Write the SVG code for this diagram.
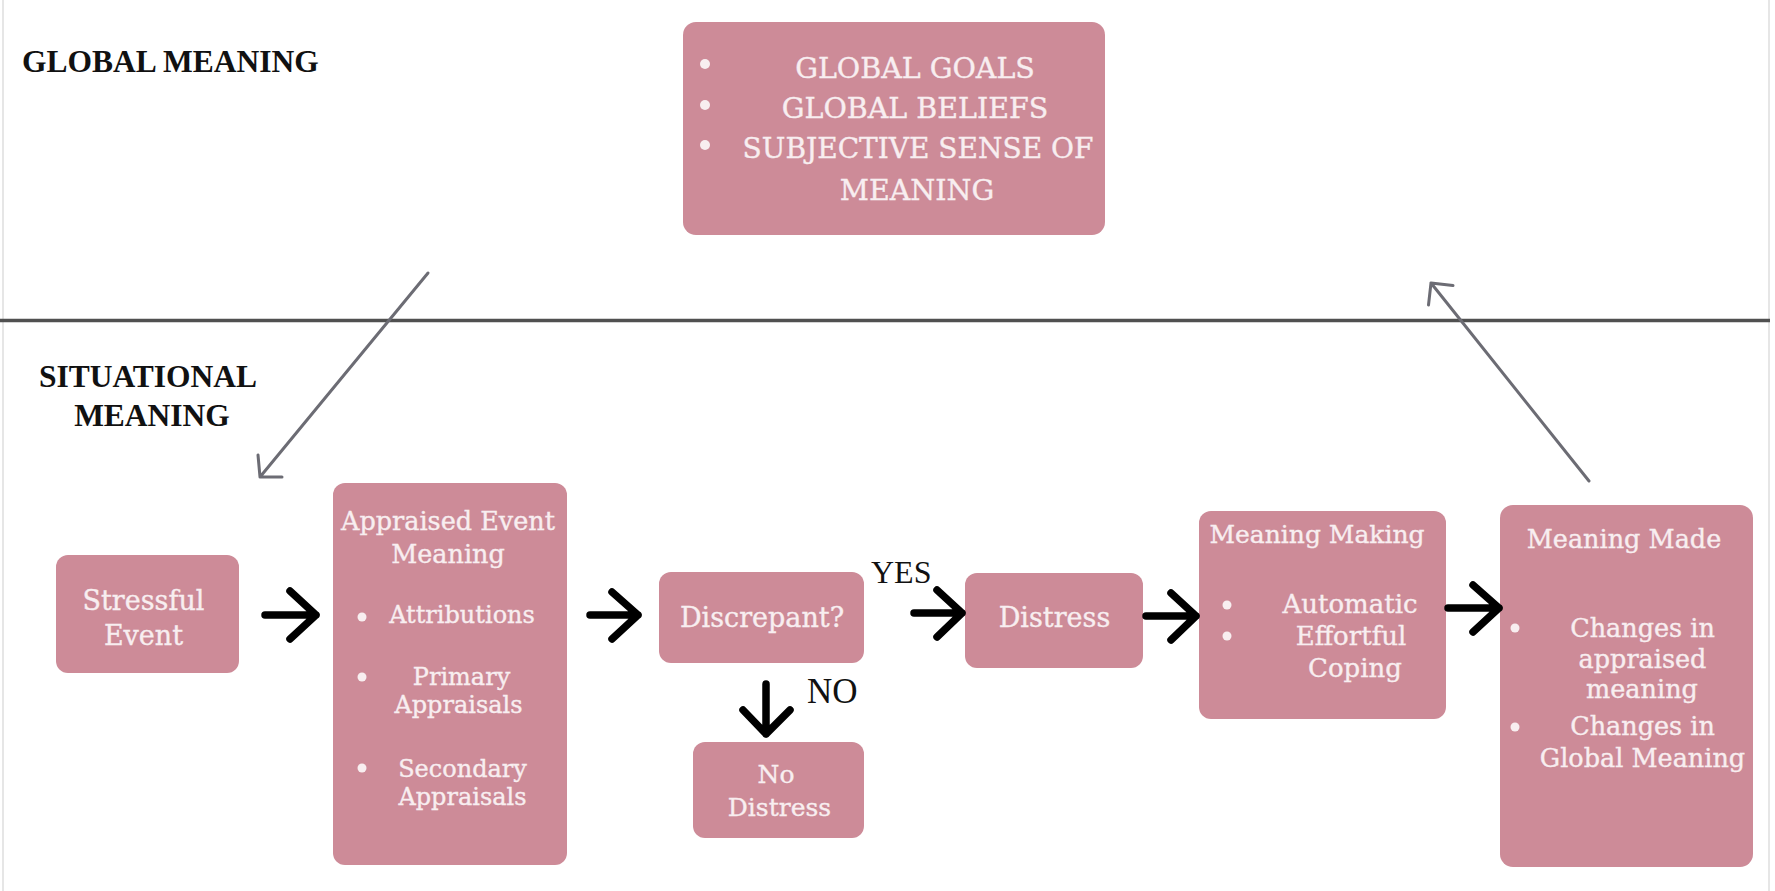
<svg xmlns="http://www.w3.org/2000/svg" width="1775" height="891" viewBox="0 0 1775 891">
<style>
.box{fill:#cd8b98;}
.bt{font-family:"DejaVu Serif","Liberation Serif",serif;fill:#f8eef0;stroke:#f8eef0;stroke-width:0.35;text-anchor:middle;}
.dot{fill:#f8eef0;}
.lbl{font-family:"Liberation Serif","Times New Roman",serif;fill:#111;}
.blk{fill:none;stroke:#000;stroke-width:7.5;stroke-linecap:round;stroke-linejoin:round;}
.gry{fill:none;stroke:#6c6c74;stroke-width:3;stroke-linecap:round;stroke-linejoin:round;}
</style>
<rect x="0" y="0" width="1775" height="891" fill="#ffffff"/>
<line x1="3" y1="0" x2="3" y2="891" stroke="#e6e6e6" stroke-width="2"/>
<line x1="1769" y1="0" x2="1769" y2="891" stroke="#e6e6e6" stroke-width="2"/>
<line x1="0" y1="320.5" x2="1770" y2="320.5" stroke="#505050" stroke-width="3.5"/>

<g id="labels">
<text class="lbl" x="22" y="72" font-size="31.5" font-weight="bold">GLOBAL MEANING</text>
<text class="lbl" x="148" y="387" font-size="31.5" font-weight="bold" text-anchor="middle">SITUATIONAL</text>
<text class="lbl" x="152" y="426" font-size="31.5" font-weight="bold" text-anchor="middle">MEANING</text>
<text class="lbl" x="871" y="583" font-size="32">YES</text>
<text class="lbl" x="807" y="703" font-size="35">NO</text>
</g>

<g id="global-meaning">
<rect class="box" x="683" y="22" width="422" height="213" rx="13"/>
<circle class="dot" cx="705" cy="64" r="5"/>
<circle class="dot" cx="705" cy="105" r="5"/>
<circle class="dot" cx="705" cy="145" r="5"/>
<text class="bt" x="915" y="78" font-size="28.5">GLOBAL GOALS</text>
<text class="bt" x="915" y="118" font-size="28.5">GLOBAL BELIEFS</text>
<text class="bt" x="918" y="158" font-size="28">SUBJECTIVE SENSE OF</text>
<text class="bt" x="917" y="200" font-size="28.5">MEANING</text>
</g>

<g id="stressful-event">
<rect class="box" x="56" y="555" width="183" height="118" rx="12"/>
<text class="bt" x="143.5" y="610" font-size="27">Stressful</text>
<text class="bt" x="143.5" y="645" font-size="27">Event</text>
</g>

<g id="appraised-event-meaning">
<rect class="box" x="333" y="483" width="234" height="382" rx="12"/>
<text class="bt" x="448" y="530" font-size="25.5">Appraised Event</text>
<text class="bt" x="448" y="563" font-size="25.5">Meaning</text>
<circle class="dot" cx="362" cy="617" r="4.5"/>
<text class="bt" x="462" y="623" font-size="24">Attributions</text>
<circle class="dot" cx="362" cy="677" r="4.5"/>
<text class="bt" x="461.5" y="685" font-size="24">Primary</text>
<text class="bt" x="458.5" y="713" font-size="24">Appraisals</text>
<circle class="dot" cx="362" cy="768" r="4.5"/>
<text class="bt" x="462.5" y="777" font-size="24">Secondary</text>
<text class="bt" x="462.5" y="805" font-size="24">Appraisals</text>
</g>

<g id="discrepant">
<rect class="box" x="659" y="572" width="205" height="91" rx="12"/>
<text class="bt" x="762" y="627" font-size="27">Discrepant?</text>
</g>

<g id="no-distress">
<rect class="box" x="693" y="742" width="171" height="96" rx="12"/>
<text class="bt" x="776" y="783" font-size="25">No</text>
<text class="bt" x="779.5" y="816" font-size="25">Distress</text>
</g>

<g id="distress">
<rect class="box" x="965" y="573" width="178" height="95" rx="12"/>
<text class="bt" x="1054.5" y="627" font-size="27">Distress</text>
</g>

<g id="meaning-making">
<rect class="box" x="1199" y="511" width="247" height="208" rx="12"/>
<text class="bt" x="1317" y="543" font-size="25">Meaning Making</text>
<circle class="dot" cx="1227" cy="605" r="4.5"/>
<circle class="dot" cx="1227" cy="636" r="4.5"/>
<text class="bt" x="1350" y="613" font-size="26">Automatic</text>
<text class="bt" x="1351" y="645" font-size="26">Effortful</text>
<text class="bt" x="1355" y="677" font-size="26">Coping</text>
</g>

<g id="meaning-made">
<rect class="box" x="1500" y="505" width="253" height="362" rx="13"/>
<text class="bt" x="1624" y="548" font-size="25.5">Meaning Made</text>
<circle class="dot" cx="1515" cy="628" r="4.5"/>
<text class="bt" x="1642.5" y="637" font-size="25.5">Changes in</text>
<text class="bt" x="1642.5" y="668" font-size="25.5">appraised</text>
<text class="bt" x="1642" y="698" font-size="25.5">meaning</text>
<circle class="dot" cx="1515" cy="727" r="4.5"/>
<text class="bt" x="1642.5" y="735" font-size="25.5">Changes in</text>
<text class="bt" x="1642.5" y="767" font-size="25.5">Global Meaning</text>
</g>

<g id="connectors">
<path class="gry" d="M428 273 L260 477 M258 455 L260 477 L282 477"/>
<path class="gry" d="M1589 481 L1431 283 M1428.5 305 L1431 283 L1453 285.5"/>
<path class="blk" d="M265 615 H316 M290 591 L316 615 L290 639"/>
<path class="blk" d="M590 615 H638 M612 592 L638 615 L612 639"/>
<path class="blk" d="M914 613 H962 M937 590 L962 613 L937 637"/>
<path class="blk" d="M1146 616 H1196 M1171 593 L1196 616 L1171 640"/>
<path class="blk" d="M1448 608 H1499 M1473 585 L1499 608 L1473 632"/>
<path class="blk" d="M766 684 V734 M743 710 L766 734 L790 710"/>
</g>
</svg>
